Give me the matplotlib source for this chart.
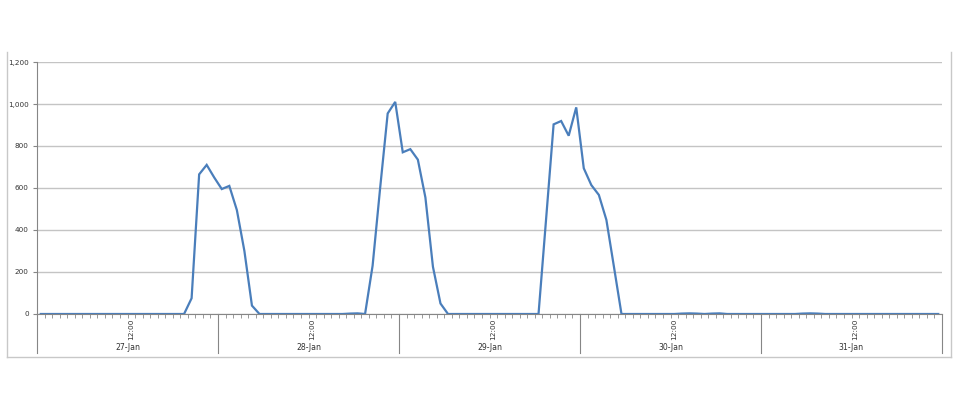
import matplotlib.pyplot as plt
from matplotlib.lines import Line2D
import numpy as np

# Datos (un valor por hora, 24 por dia)
dias = ['27-Jan', '28-Jan', '29-Jan', '30-Jan', '31-Jan']
etiqueta_hora = '12:00'

dia1 = [0, 0, 0, 0, 0, 0, 0, 0, 0, 0, 0, 0, 0, 0, 0, 0, 0, 0, 0, 0, 75, 665, 710, 650]
dia2 = [595, 610, 495, 300, 40, 0, 0, 0, 0, 0, 0, 0, 0, 0, 0, 0, 0, 2, 3, 0, 230, 600, 955, 1010]
dia3 = [770, 785, 735, 555, 225, 50, 0, 0, 0, 0, 0, 0, 0, 0, 0, 0, 0, 0, 0, 450, 903, 919, 849, 984]
dia4 = [694, 614, 567, 448, 225, 0, 0, 0, 0, 0, 0, 0, 0, 2, 3, 2, 0, 2, 3, 0, 0, 0, 0, 0]
dia5 = [0, 0, 0, 0, 0, 2, 3, 2, 0, 0, 0, 0, 0, 0, 0, 0, 0, 0, 0, 0, 0, 0, 0, 0]

valores = dia1 + dia2 + dia3 + dia4 + dia5
n = len(valores)
x = np.arange(n) + 0.5  # cada punto en el centro de su categoria

fig = plt.figure(figsize=(9.6, 4.2), dpi=100)
W, H = 960, 420
ax = fig.add_axes([37 / W, (H - 314) / H, (942 - 37) / W, (314 - 62) / H])

gris = '#868686'
ax.plot(x, valores, color='#4a7ebb', linewidth=1.6, solid_joinstyle='miter')

ax.set_xlim(0, n)
ax.set_ylim(0, 1200)
ax.set_yticks(range(0, 1201, 200))
ax.set_yticklabels(['{:,}'.format(v) for v in range(0, 1201, 200)], fontsize=5.2, color='#333333')
ax.yaxis.grid(True, color='#c4c4c4', linewidth=1)
ax.set_axisbelow(True)

for lado in ['top', 'right']:
    ax.spines[lado].set_visible(False)
ax.spines['left'].set_color(gris)
ax.spines['bottom'].set_color(gris)
ax.tick_params(axis='y', length=3, color=gris, pad=3)

# ticks del eje de categorias (uno por hora)
ax.set_xticks(np.arange(0, n + 1))
ax.set_xticklabels([])
ax.tick_params(axis='x', length=3, color='#999999', width=0.7)

# separadores de dias y etiquetas de dos niveles
trans = ax.get_xaxis_transform()
fondo = (314 - 353) / (314 - 62)
for d in range(len(dias) + 1):
    ax.plot([24 * d, 24 * d], [0, fondo], transform=trans, color=gris, linewidth=0.8, clip_on=False)
for d, dia in enumerate(dias):
    ax.text(24 * d + 12.5, (314 - 329) / 252, etiqueta_hora, transform=trans, rotation=90,
            ha='center', va='center', fontsize=5.3, color='#333333')
    ax.text(24 * d + 12, (314 - 348) / 252, dia, transform=trans,
            ha='center', va='center', fontsize=5.6, color='#333333')

# borde exterior del grafico
borde = '#c8c8c8'
for (x0, y0, x1, y1) in [(7, 52, 7, 357), (951, 52, 951, 357), (7, 357, 951, 357)]:
    fig.add_artist(Line2D([x0 / W, x1 / W], [1 - y0 / H, 1 - y1 / H], transform=fig.transFigure,
                          color=borde, linewidth=1))

fig.savefig('out.png', dpi=100, facecolor='white')
